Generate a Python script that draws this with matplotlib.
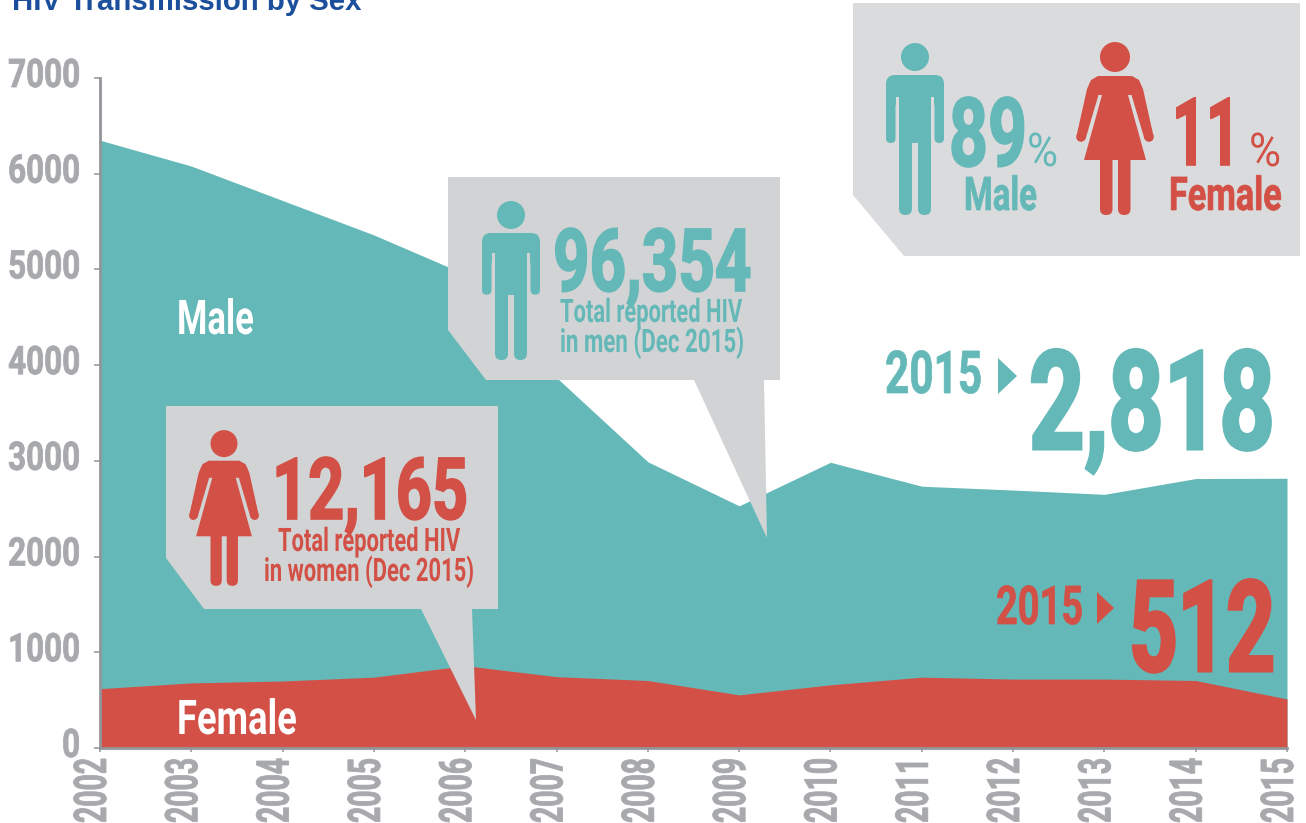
import matplotlib
matplotlib.use("Agg")
import matplotlib.pyplot as plt
import matplotlib.patheffects as pe
from matplotlib.colors import to_rgba
from matplotlib.patches import Polygon, Circle, FancyBboxPatch, Rectangle
from matplotlib.transforms import Affine2D, ScaledTranslation, Bbox

# ---- data ----
years = [2002, 2003, 2004, 2005, 2006, 2007, 2008, 2009, 2010, 2011, 2012, 2013, 2014, 2015]
male = [6350, 6080, 5720, 5360, 4950, 3870, 2990, 2530, 2985, 2735, 2695, 2650, 2815, 2818]
female = [620, 680, 700, 740, 860, 745, 705, 555, 660, 740, 720, 720, 705, 512]
y_ticks = [0, 1000, 2000, 3000, 4000, 5000, 6000, 7000]

TEAL = "#64B8B8"
RED = "#D35046"
GREY = "#A7A9AC"
AXIS = "#939598"
PANEL = "#D1D3D4"
PANEL2 = "#DADBDD"
NAVY = "#1B4F9C"
NARROW = "Roboto"
DIGIT = 0.71

W, H = 1306, 823
fig = plt.figure(figsize=(W / 100, H / 100), dpi=100, facecolor="white")
ax = fig.add_axes([100 / W, (H - 748) / H, (1287 - 100) / W, (748 - 78) / H])
ax.fill_between(years, male, 0, color=TEAL, lw=0)
ax.fill_between(years, female, 0, color=RED, lw=0)
ax.set_xlim(2002, 2015)
ax.set_ylim(0, 7000)
for s in ("top", "right"):
    ax.spines[s].set_visible(False)
for s in ("left", "bottom"):
    ax.spines[s].set_color(AXIS)
    ax.spines[s].set_linewidth(2)
ax.set_xticks(years)
ax.set_xticklabels([str(y) for y in years], rotation=90, family=NARROW, weight="bold",
                   fontsize=32 / DIGIT * 0.72, color=GREY, va="top", ha="center")
ax.set_yticks(y_ticks)
ax.set_yticklabels([str(v) for v in y_ticks], family=NARROW, weight="bold",
                   fontsize=28 / DIGIT * 0.72, color=GREY)
ax.tick_params(axis="y", length=4.3, width=1.1, color=AXIS, pad=10)
ax.tick_params(axis="x", length=2.9, width=1.1, color=AXIS, pad=4.3)
for lab in ax.get_yticklabels():
    lab.set_transform(lab.get_transform() + ScaledTranslation(0, 5.5 / 100, fig.dpi_scale_trans))
for lab in ax.get_xticklabels():
    lab.set_transform(lab.get_transform() + ScaledTranslation(-6 / 100, 0, fig.dpi_scale_trans))

# overlay in pixel units for the infographic decorations
ov = fig.add_axes([0, 0, 1, 1], facecolor="none")
ov.set_xlim(0, W)
ov.set_ylim(H, 0)
ov.axis("off")


def poly(pts, color, z=2):
    ov.add_patch(Polygon(pts, closed=True, fc=color, ec="none", zorder=z))


poly([(853, 3), (1300, 3), (1300, 256), (904, 256), (853, 195)], PANEL2)
poly([(448, 177), (780, 177), (780, 380), (764, 380), (767, 538), (694, 380),
      (486, 380), (448, 330)], PANEL)
poly([(166, 406), (498, 406), (498, 609), (472, 609), (476, 720), (421, 609),
      (204, 609), (166, 558)], PANEL)


def rbox(x0, y0, x1, y1, r, color):
    ov.add_patch(FancyBboxPatch((x0 + r, y0 + r), x1 - x0 - 2 * r, y1 - y0 - 2 * r,
                                boxstyle=f"round,pad={r},rounding_size={r}",
                                fc=color, ec="none", zorder=3))


def man(cx, top, bottom, color, bg):
    ov.add_patch(Circle((cx, top + 14), 14, fc=color, ec="none", zorder=3))
    y = top + 32
    f = (bottom - y) / 140
    rbox(cx - 29, y, cx + 29, y + 30, 9, color)
    rbox(cx - 29, y + 10, cx - 19.5, y + 68 * f, 4.7, color)
    rbox(cx + 19.5, y + 10, cx + 29, y + 68 * f, 4.7, color)
    ov.add_patch(Rectangle((cx - 16, y + 6), 32, 68 * f - 6, fc=color, ec="none", zorder=3))
    rbox(cx - 16, y + 60 * f, cx - 3, bottom, 6.4, color)
    rbox(cx + 3, y + 60 * f, cx + 16, bottom, 6.4, color)
    for sx in (-1, 1):
        ov.add_patch(Rectangle((cx + sx * 17.8 - 1.7, y + 22 * f), 3.4, 50 * f,
                               fc=bg, ec="none", zorder=3.5))


def woman(cx, top, s, color):
    def P(x, y):
        return (cx + x * s, top + y * s)
    ov.add_patch(Circle(P(0, 14), 15 * s, fc=color, ec="none", zorder=3))
    for m in (-1, 1):
        poly([P(0, 33), P(m * 17, 33), P(m * 24, 37), P(m * 28, 46), P(m * 38.5, 93),
              P(m * 29.5, 96), P(m * 16.5, 52), P(0, 52)], color, 3)
        ov.add_patch(Circle(P(m * 34, 94), 4.8 * s, fc=color, ec="none", zorder=3))
    poly([P(-13, 45), P(13, 45), P(13, 52), P(31, 117), P(-31, 117), P(-13, 52)], color, 3)
    for m in (-1, 0):
        a = 3 if m == 0 else -15
        rbox(cx + a * s, top + 110 * s, cx + (a + 12.5) * s, top + 172 * s, 6 * s, color)


man(915, 43, 215, TEAL, PANEL2)
woman(1115, 43, 1.0, RED)
man(511, 201, 360, TEAL, PANEL)
woman(224, 431, 0.9, RED)

poly([(998, 358), (1017, 376), (998, 394)], TEAL, 3)
poly([(1097, 592), (1114, 608), (1097, 624)], RED, 3)


class Condense(pe.AbstractPathEffect):
    """Squeezes glyphs about a display-space anchor, with optional extra stroke weight."""
    def __init__(self, sx, sy, x0, y0, color, stroke=0.0):
        super().__init__()
        self.m = Affine2D().translate(-x0, -y0).scale(sx, sy).translate(x0, y0)
        self.color, self.stroke = color, stroke

    def draw_path(self, renderer, gc, tpath, affine, rgbFace=None):
        a = affine + self.m
        if self.stroke > 0:
            gc0 = renderer.new_gc()
            gc0.copy_properties(gc)
            gc0.set_foreground(self.color)
            gc0.set_linewidth(self.stroke)
            gc0.set_joinstyle("miter")
            renderer.draw_path(gc0, tpath, a, to_rgba(self.color))
            gc0.restore()
        else:
            renderer.draw_path(gc, tpath, a, rgbFace)


def squeeze(t, sx, sy, x0, y0, stroke=0.0):
    t.set_path_effects([Condense(sx, sy, x0, y0, t.get_color(), stroke)])


fig.canvas.draw()
renderer = fig.canvas.get_renderer()

for lab in ax.get_yticklabels():
    w = lab.get_window_extent(renderer).width
    squeeze(lab, (len(lab.get_text()) * 18.0) / w, 1, 80, 0, 0.6)
for lab in ax.get_xticklabels():
    b = lab.get_window_extent(renderer)
    squeeze(lab, 1, 65 / b.height, 0, b.y1, 0.6)


def fit(s, xl, xr, base, h, color, weight="bold", stroke=0.0):
    t = ov.text(xl, base, s, family=NARROW, weight=weight, color=color,
                fontsize=h / DIGIT * 0.72, ha="left", va="baseline", zorder=5)
    b = t.get_window_extent(renderer)
    squeeze(t, (xr - xl) / b.width, 1, xl, 0, stroke)
    return t


ov.text(12, 9.5, "HIV Transmission by Sex", family=["Liberation Sans", "DejaVu Sans"], weight="bold",
        color=NAVY, fontsize=21.2, ha="left", va="baseline", zorder=5)

fit("89", 949, 1027, 166, 68, TEAL, stroke=1.2)
fit("%", 1027, 1058, 166, 33, TEAL, "normal")
fit("Male", 964, 1037, 210, 33, TEAL, stroke=0.5)
fit("11", 1172, 1240, 165, 67, RED, stroke=1.2)
fit("%", 1249, 1281, 166, 33, RED, "normal")
fit("Female", 1169, 1282, 210, 33, RED, stroke=0.5)

fit("Male", 177, 254, 334, 34, "white")
fit("Female", 177, 297, 734, 34, "white")

fit("96,354", 553, 751, 291, 62, TEAL, stroke=1.2)
fit("Total reported HIV", 560, 742, 322, 23, TEAL)
fit("in men (Dec 2015)", 560, 744, 352, 23, TEAL)

fit("12,165", 272, 468, 519, 61, RED, stroke=1.2)
fit("Total reported HIV", 278, 460, 551, 23, RED)
fit("in women (Dec 2015)", 264, 474, 581, 23, RED)

fit("2015", 885, 982, 393, 42, TEAL, stroke=0.5)
fit("2,818", 1029, 1275, 449, 98, TEAL, stroke=2.2)
fit("2015", 996, 1083, 624, 38, RED, stroke=0.5)
fit("512", 1129, 1275, 671, 90, RED, stroke=2.2)

fig.savefig("out.png", dpi=100, facecolor="white")
